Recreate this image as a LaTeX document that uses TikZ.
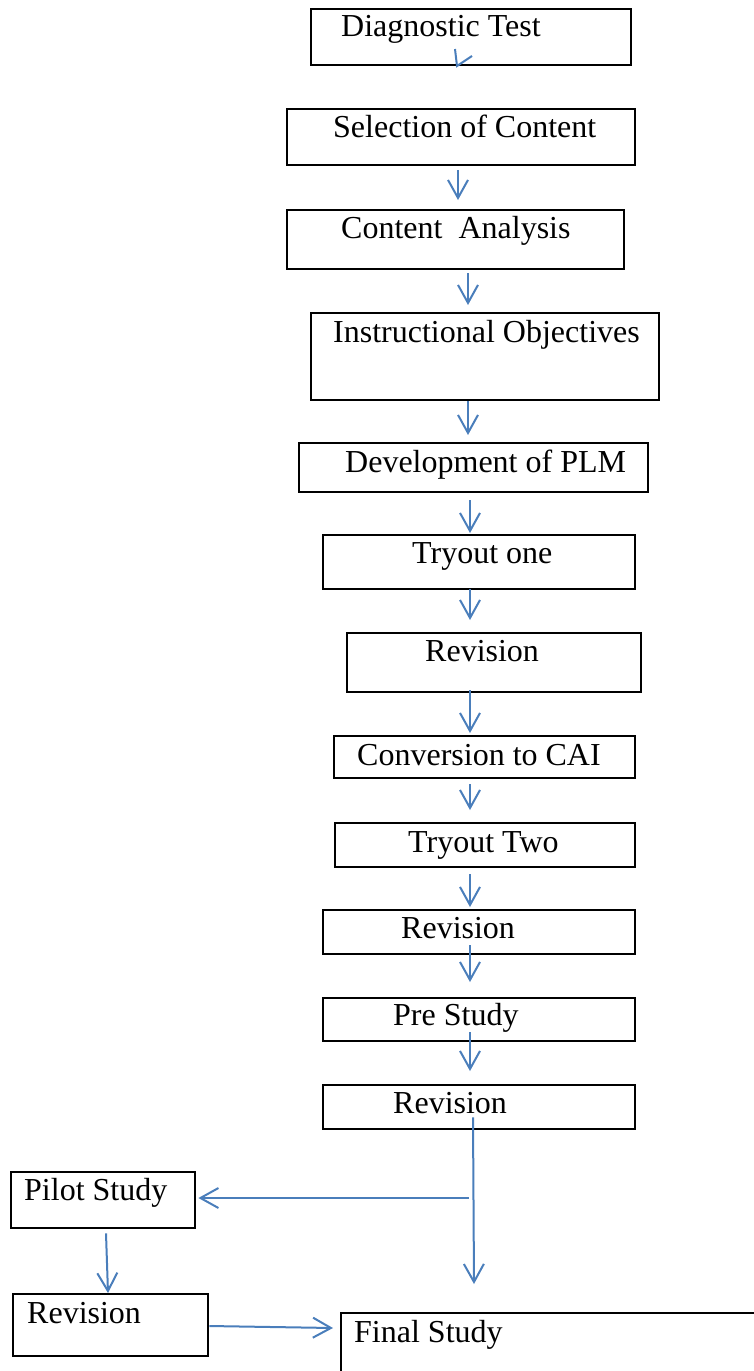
\documentclass[tikz,border=0pt]{standalone}
\usepackage{fontspec}
\setmainfont{Liberation Serif}
\usetikzlibrary{arrows.meta}
\definecolor{flowblue}{RGB}{74,126,187}
\tikzset{
  >={Straight Barb[length=18pt,width=20pt]},
  stage/.style={draw, line width=2.4pt, inner sep=0pt, anchor=north west},
  caption/.style={anchor=base west, inner sep=0pt,
    font=\fontsize{32}{36}\selectfont},
  flow/.style={->, draw=flowblue, line width=2pt},
  tipmark/.style={draw=flowblue, line width=2pt}
}

\begin{document}
\begin{tikzpicture}[x=1pt, y=-1pt]
    \clip (0,0) rectangle (754,1371);

    \node[stage, minimum width=320pt, minimum height=56pt] (diag)  at (310,8)    {};
    \node[stage, minimum width=348pt, minimum height=56pt] (sel)   at (286,108)  {};
    \node[stage, minimum width=337pt, minimum height=59pt] (ana)   at (286,209)  {};
    \node[stage, minimum width=348pt, minimum height=87pt] (ins)   at (310,312)  {};
    \node[stage, minimum width=349pt, minimum height=49pt] (dev)   at (298,442)  {};
    \node[stage, minimum width=312pt, minimum height=54pt] (tryA)  at (322,534)  {};
    \node[stage, minimum width=294pt, minimum height=59pt] (revA)  at (346,632)  {};
    \node[stage, minimum width=301pt, minimum height=42pt] (conv)  at (333,735)  {};
    \node[stage, minimum width=300pt, minimum height=44pt] (tryB)  at (334,822)  {};
    \node[stage, minimum width=312pt, minimum height=44pt] (revB)  at (322,909)  {};
    \node[stage, minimum width=312pt, minimum height=43pt] (pre)   at (322,997)  {};
    \node[stage, minimum width=312pt, minimum height=44pt] (revC)  at (322,1084) {};
    \node[stage, minimum width=184pt, minimum height=56pt] (pilot) at (10,1171)  {};
    \node[stage, minimum width=195pt, minimum height=62pt] (revD)  at (12,1293)  {};
    \node[stage, minimum width=430pt, minimum height=80pt] (final) at (340,1312) {};

    \node[caption] (diagT)  at (341,36)   {Diagnostic Test};
    \node[caption] (selT)   at (333,137)  {Selection of Content};
    \node[caption] (anaT)   at (341,238)  {Content~~Analysis};
    \node[caption] (insT)   at (333,342)  {Instructional Objectives};
    \node[caption] (devT)   at (345,472)  {Development of PLM};
    \node[caption] (tryAT)  at (412,563)  {Tryout one};
    \node[caption] (revAT)  at (425,661)  {Revision};
    \node[caption] (convT)  at (357,765)  {Conversion to CAI};
    \node[caption] (tryBT)  at (408,852)  {Tryout Two};
    \node[caption] (revBT)  at (401,938)  {Revision};
    \node[caption] (preT)   at (393,1025) {Pre Study};
    \node[caption] (revCT)  at (393,1113) {Revision};
    \node[caption] (pilotT) at (24,1200)  {Pilot Study};
    \node[caption] (revDT)  at (27,1323)  {Revision};
    \node[caption] (finalT) at (354,1342) {Final Study};

    % stray tip inside the first box
    \draw[tipmark] (455,49) -- (457,66) -- (472,56);

    \draw[flow] ([yshift=-4pt]sel.south -| 458,0)  -- ([yshift=9pt]ana.north -| 458,0);
    \draw[flow] ([yshift=-3pt]ana.south -| 468,0)  -- ([yshift=7pt]ins.north -| 468,0);
    \draw[flow] (ins.south -| 468,0)               -- ([yshift=7pt]dev.north -| 468,0);
    \draw[flow] ([yshift=-7pt]dev.south -| 470,0)  -- ([yshift=1pt]tryA.north -| 470,0);
    \draw[flow] ([yshift=1pt]tryA.south -| 470,0)  -- ([yshift=12pt]revA.north -| 470,0);
    \draw[flow] ([yshift=3pt]revA.south -| 470,0)  -- ([yshift=2pt]conv.north -| 470,0);
    \draw[flow] ([yshift=-5pt]conv.south -| 470,0) -- ([yshift=12pt]tryB.north -| 470,0);
    \draw[flow] ([yshift=-6pt]tryB.south -| 470,0) -- ([yshift=2pt]revB.north -| 470,0);
    \draw[flow] ([yshift=10pt]revB.south -| 470,0) -- ([yshift=15pt]pre.north -| 470,0);
    \draw[flow] ([yshift=10pt]pre.south -| 470,0)  -- ([yshift=13pt]revC.north -| 470,0);

    \coordinate (drop)  at (474,1284);
    \coordinate (split) at (469,1198);
    \draw[flow] ([yshift=13pt]revC.south -| 473,0) -- (drop);
    \draw[flow] (split) -- ([xshift=2pt]pilot.east |- split);
    \draw[flow] ([yshift=-4pt]pilot.south -| 106,0) -- (revD.north -| 108,0);
    \draw[flow] (revD.east |- 0,1326) -- ([xshift=-7pt]final.west |- 0,1328);
\end{tikzpicture}
\end{document}
